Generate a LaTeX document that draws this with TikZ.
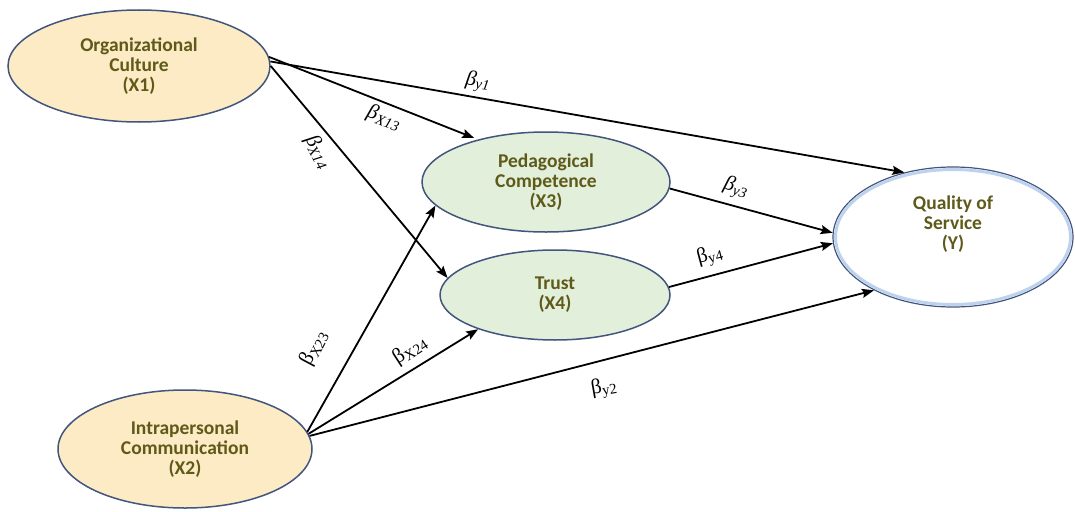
\documentclass[tikz,border=0pt]{standalone}
\usepackage{fontspec}
\setmainfont{Carlito}
\newfontfamily\bfont{Liberation Serif}
\usetikzlibrary{shapes.geometric,arrows.meta}
\definecolor{txt}{RGB}{95,90,25}
\definecolor{yel}{RGB}{252,235,196}
\definecolor{grn}{RGB}{226,239,218}
\definecolor{bord}{RGB}{65,85,125}
\definecolor{ybl}{RGB}{190,210,238}
\begin{document}
\begin{tikzpicture}[x=1pt,y=-1pt,
  ell/.style={ellipse, draw=bord, line width=1.5pt, inner sep=0pt, align=center, text=txt,
              font=\fontsize{19.5}{19.8}\selectfont\bfseries},
  arr/.style={-{Stealth[length=12pt,width=9pt,inset=2pt]}, line width=1.8pt},
  lab/.style={font=\bfont\fontsize{21}{21}\selectfont, inner sep=0pt}]
\useasboundingbox (0,0) rectangle (1075,511);
\node[ell, fill=yel, minimum width=262pt, minimum height=112pt] (X1) at (139,66) {Organizational\\Culture\\(X1)};
\node[ell, fill=yel, minimum width=254pt, minimum height=118pt] (X2) at (185,449) {Intrapersonal\\Communication\\(X2)};
\node[ell, fill=grn, minimum width=248pt, minimum height=100pt] (X3) at (546,182) {Pedagogical\\Competence\\(X3)};
\node[ell, fill=grn, minimum width=230pt, minimum height=90pt] (X4) at (555,295) {Trust\\(X4)};
\node[ell, fill=white, line width=1.2pt, minimum width=240pt, minimum height=140pt] (Y) at (953,237) {};
\draw[ybl, line width=3pt] (Y.center) ellipse [x radius=117.5pt, y radius=67.5pt];
\node[ell, draw=none, fill=none] (Yt) at (953,224) {Quality of\\Service\\(Y)};

\draw[arr] (X1.2) -- (Y.127);
\draw[arr, shorten >=4pt] (X1.4) -- (X3.148);
\draw[arr] (X1.0) -- (X4.171);
\draw[arr] (X2.8) -- (X3.192);
\draw[arr] (X2.7) -- (X4.204);
\draw[arr] (X2.6) -- (Y.214);
\draw[arr] (X3.357) -- (Y.178);
\draw[arr] (X4.4) -- (Y.183);

\node[lab, rotate=-9] (b1) at (478,82) {\itshape β\textsubscript{y1}};
\node[lab, rotate=-20] (b13) at (384,118) {\itshape β\textsubscript{X13}};
\node[lab, rotate=-62] (b14) at (318,152) {\itshape β\textsubscript{X14}};
\node[lab, rotate=62] (b23) at (314,348) {β\textsubscript{X23}};
\node[lab, rotate=33] (b24) at (410,350) {β\textsubscript{X24}};
\node[lab, rotate=10] (b2) at (604,388) {β\textsubscript{y2}};
\node[lab, rotate=-17] (b3) at (736,188) {\itshape β\textsubscript{y3}};
\node[lab, rotate=15] (b4) at (710,256) {β\textsubscript{y4}};
\end{tikzpicture}
\end{document}
